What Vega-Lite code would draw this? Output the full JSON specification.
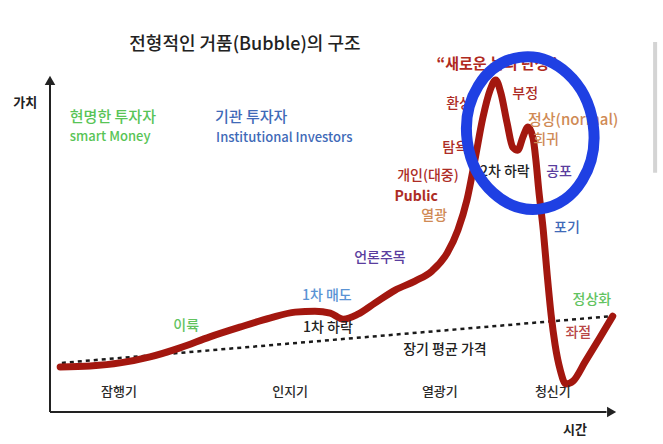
{
  "$schema": "https://vega.github.io/schema/vega-lite/v6.json",
  "width": 565,
  "height": 334,
  "autosize": {"type": "none"},
  "padding": {"left": 50, "top": 78, "right": 48, "bottom": 32},
  "background": "white",
  "config": {"view": {"stroke": null}, "font": "Noto Sans CJK KR", "text": {"font": "Noto Sans CJK KR"}},
  "datasets": {
    "phases": [
      {"phase": "잠행기", "t0": 0, "t1": 24.8},
      {"phase": "인지기", "t0": 24.8, "t1": 59.1},
      {"phase": "열광기", "t0": 59.1, "t1": 79.1},
      {"phase": "청신기", "t0": 79.1, "t1": 100}
    ],
    "dividers": [{"t": 24.8}, {"t": 59.1}, {"t": 79.1}],
    "curve": [
      {"t": 1.8, "v": 13.5}, {"t": 7.1, "v": 13.8}, {"t": 12.4, "v": 14.7}, {"t": 17.7, "v": 16.5},
      {"t": 23.0, "v": 19.2}, {"t": 28.3, "v": 22.5}, {"t": 33.6, "v": 25.4}, {"t": 38.9, "v": 28.1},
      {"t": 43.4, "v": 29.9}, {"t": 46.9, "v": 30.2}, {"t": 49.6, "v": 29.6}, {"t": 51.9, "v": 27.8},
      {"t": 54.5, "v": 29.3}, {"t": 57.5, "v": 32.6}, {"t": 61.1, "v": 36.5}, {"t": 64.6, "v": 39.2},
      {"t": 67.6, "v": 42.2}, {"t": 70.3, "v": 47.6}, {"t": 72.2, "v": 54.5}, {"t": 73.8, "v": 63.5},
      {"t": 75.2, "v": 75.4}, {"t": 76.6, "v": 88.0}, {"t": 77.9, "v": 96.4}, {"t": 78.9, "v": 99.4},
      {"t": 79.8, "v": 95.5}, {"t": 80.9, "v": 86.5}, {"t": 81.9, "v": 79.3}, {"t": 82.8, "v": 78.4},
      {"t": 83.7, "v": 82.3}, {"t": 84.6, "v": 85.3}, {"t": 85.5, "v": 82.0}, {"t": 86.0, "v": 75.4},
      {"t": 86.5, "v": 66.5}, {"t": 87.3, "v": 54.5}, {"t": 88.0, "v": 41.0}, {"t": 88.7, "v": 29.0},
      {"t": 89.4, "v": 20.1}, {"t": 90.3, "v": 12.6}, {"t": 91.3, "v": 8.4}, {"t": 92.6, "v": 9.3},
      {"t": 94.7, "v": 15.0}, {"t": 97.3, "v": 22.2}, {"t": 99.6, "v": 28.7}
    ],
    "trend": [{"t": 2.1, "v": 14.7}, {"t": 99.5, "v": 28.7}],
    "labelsCenter": [
      {"text": "이륙", "t": 24.1, "v": 25.7, "tone": "recovery"},
      {"text": "1차 매도", "t": 49.0, "v": 34.7, "tone": "sell"},
      {"text": "1차 하락", "t": 49.2, "v": 25.1, "tone": "neutral"},
      {"text": "언론주목", "t": 58.4, "v": 46.1, "tone": "media"},
      {"text": "장기 평균 가격", "t": 69.9, "v": 18.6, "tone": "neutral"},
      {"text": "개인(대중)", "t": 66.9, "v": 70.7, "tone": "crowd"},
      {"text": "열광", "t": 68.0, "v": 58.7, "tone": "mania"},
      {"text": "탐욕", "t": 71.7, "v": 79.0, "tone": "crowd"},
      {"text": "환상", "t": 72.4, "v": 92.2, "tone": "crowd"},
      {"text": "부정", "t": 84.1, "v": 95.2, "tone": "crowd"},
      {"text": "회귀", "t": 87.8, "v": 81.4, "tone": "mania"},
      {"text": "2차 하락", "t": 80.5, "v": 71.9, "tone": "neutral"},
      {"text": "공포", "t": 90.1, "v": 71.9, "tone": "media"},
      {"text": "포기", "t": 91.5, "v": 55.1, "tone": "inst"},
      {"text": "정상화", "t": 95.9, "v": 33.5, "tone": "recovery"},
      {"text": "좌절", "t": 93.5, "v": 23.7, "tone": "despair"}
    ],
    "labelsLeft": [
      {"text": "현명한 투자자", "t": 3.5, "v": 88.3, "tone": "smart"},
      {"text": "기관 투자자", "t": 29.2, "v": 88.3, "tone": "inst"},
      {"text": "정상(normal)", "t": 84.6, "v": 87.4, "tone": "mania"}
    ],
    "labelsSub": [
      {"text": "smart Money", "t": 3.5, "v": 82.3, "tone": "smart"},
      {"text": "Institutional Investors", "t": 29.4, "v": 82.0, "tone": "inst"}
    ],
    "phaseLabels": [
      {"text": "잠행기", "t": 12.2, "v": 6.0},
      {"text": "인지기", "t": 42.5, "v": 6.0},
      {"text": "열광기", "t": 69.0, "v": 6.0},
      {"text": "청신기", "t": 89.0, "v": 6.0}
    ],
    "axisLines": [
      {"t": 0, "v": 0, "t2": 0, "v2": 98.5},
      {"t": 0, "v": 0, "t2": 98.5, "v2": 0}
    ],
    "ring": [{"t": 85.0, "v": 83.5}],
    "scrollbar": [{"t": 107.1, "v": 110.8, "v2": 71.6}]
  },
  "encoding": {
    "x": {"field": "t", "type": "quantitative", "scale": {"domain": [0, 100], "nice": false, "zero": false}, "axis": null},
    "y": {"field": "v", "type": "quantitative", "scale": {"domain": [0, 100], "nice": false, "zero": false}, "axis": null}
  },
  "resolve": {"scale": {"color": "independent"}},
  "layer": [
    {
      "data": {"name": "phases"},
      "mark": {"type": "rect"},
      "encoding": {
        "x": {"field": "t0", "type": "quantitative"},
        "x2": {"field": "t1"},
        "y": {"datum": 0},
        "y2": {"datum": 100},
        "color": {"field": "phase", "type": "nominal", "legend": null,
          "scale": {"domain": ["잠행기", "인지기", "열광기", "청신기"], "range": ["#eafae4", "#ebf0fa", "#fcecf1", "#fce9e3"]}}
      }
    },
    {
      "data": {"name": "dividers"},
      "mark": {"type": "rule", "color": "#9a9a9a", "strokeWidth": 1, "strokeDash": [4, 4]},
      "encoding": {"y": {"datum": 0}, "y2": {"datum": 100}}
    },
    {
      "data": {"name": "trend"},
      "mark": {"type": "line", "color": "#1a1a1a", "strokeWidth": 2.5, "strokeDash": [4, 4]},
      "encoding": {}
    },
    {
      "data": {"name": "curve"},
      "mark": {"type": "line", "color": "#a3170f", "strokeWidth": 7, "interpolate": "monotone", "strokeCap": "round", "strokeJoin": "round"},
      "encoding": {}
    },
    {
      "data": {"name": "labelsCenter"},
      "mark": {"type": "text", "fontSize": 14, "fontWeight": 500, "align": "center", "baseline": "middle"},
      "encoding": {
        "text": {"field": "text"},
        "color": {"field": "tone", "type": "nominal", "legend": null,
          "scale": {"domain": ["recovery", "sell", "neutral", "media", "crowd", "mania", "inst", "despair", "smart"],
                    "range": ["#62c35f", "#5a93d4", "#222222", "#5a3d9e", "#ad2c25", "#cf8a55", "#3f6ab8", "#b84646", "#58c456"]}}
      }
    },
    {
      "data": {"values": [{"text": "Public", "t": 64.8, "v": 64.4}]},
      "mark": {"type": "text", "fontSize": 14, "fontWeight": "bold", "align": "center", "baseline": "middle", "color": "#ad2c25"},
      "encoding": {"text": {"field": "text"}}
    },
    {
      "data": {"name": "labelsLeft"},
      "mark": {"type": "text", "fontSize": 15, "fontWeight": 500, "align": "left", "baseline": "middle"},
      "encoding": {
        "text": {"field": "text"},
        "color": {"field": "tone", "type": "nominal", "legend": null,
          "scale": {"domain": ["smart", "inst", "mania"], "range": ["#58c456", "#3f6ab8", "#cf8a55"]}}
      }
    },
    {
      "data": {"name": "labelsSub"},
      "mark": {"type": "text", "fontSize": 13, "fontWeight": 500, "align": "left", "baseline": "middle"},
      "encoding": {
        "text": {"field": "text"},
        "color": {"field": "tone", "type": "nominal", "legend": null,
          "scale": {"domain": ["smart", "inst"], "range": ["#58c456", "#3f6ab8"]}}
      }
    },
    {
      "data": {"name": "phaseLabels"},
      "mark": {"type": "text", "fontSize": 13, "fontWeight": 500, "align": "center", "baseline": "middle", "color": "#2a2a2a"},
      "encoding": {"text": {"field": "text"}}
    },
    {
      "data": {"values": [{"text": "“새로운 논리 탄생”", "t": 79.1, "v": 104.2}]},
      "mark": {"type": "text", "fontSize": 15, "fontWeight": "bold", "align": "center", "baseline": "middle", "color": "#b02a20"},
      "encoding": {"text": {"field": "text"}}
    },
    {
      "data": {"name": "axisLines"},
      "mark": {"type": "rule", "color": "#222222", "strokeWidth": 2},
      "encoding": {"x2": {"field": "t2"}, "y2": {"field": "v2"}}
    },
    {
      "data": {"values": [{"t": 0, "v": 99.3, "dir": "up"}]},
      "mark": {"type": "point", "shape": "triangle-up", "filled": true, "color": "#222222", "size": 110, "opacity": 1},
      "encoding": {}
    },
    {
      "data": {"values": [{"t": 99.4, "v": 0, "dir": "right"}]},
      "mark": {"type": "point", "shape": "triangle-right", "filled": true, "color": "#222222", "size": 110, "opacity": 1},
      "encoding": {}
    },
    {
      "data": {"name": "ring"},
      "mark": {"type": "point", "filled": false, "stroke": "#1f40e3", "strokeWidth": 11, "opacity": 1, "size": 23400, "angle": -8,
        "shape": "M 0.83 0 C 0.83 0.5523 0.4584 1 0 1 C -0.4584 1 -0.83 0.5523 -0.83 0 C -0.83 -0.5523 -0.4584 -1 0 -1 C 0.4584 -1 0.83 -0.5523 0.83 0 Z"},
      "encoding": {}
    },
    {
      "data": {"values": [{"text": "전형적인 거품(Bubble)의 구조", "t": 34.5, "v": 109.9}]},
      "mark": {"type": "text", "fontSize": 18, "fontWeight": 500, "align": "center", "baseline": "middle", "color": "#222222"},
      "encoding": {"text": {"field": "text"}}
    },
    {
      "data": {"values": [{"text": "가치", "t": -4.4, "v": 92.5}, {"text": "시간", "t": 92.9, "v": -5.4}]},
      "mark": {"type": "text", "fontSize": 13, "fontWeight": "bold", "align": "center", "baseline": "middle", "color": "#222222"},
      "encoding": {"text": {"field": "text"}}
    },
    {
      "data": {"name": "scrollbar"},
      "mark": {"type": "rule", "color": "#d4d4d4", "strokeWidth": 4},
      "encoding": {"y2": {"field": "v2"}}
    }
  ]
}
